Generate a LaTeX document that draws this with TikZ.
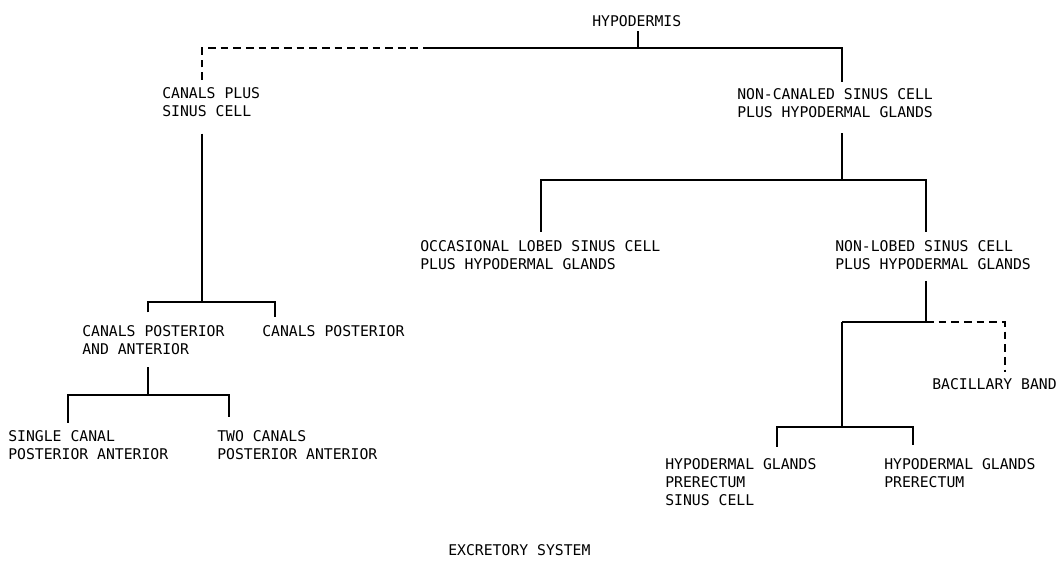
\documentclass[tikz,border=0pt]{standalone}
\usepackage{fontspec}
\setmainfont{DejaVu Sans Mono}
\begin{document}
\begin{tikzpicture}[x=0.025cm, y=-0.025cm,
  lbl/.style={anchor=north west, inner sep=0pt, align=left, font=\fontsize{10.5}{12.8}\selectfont},
  link/.style={line width=1.1pt},
  maybe/.style={line width=1.1pt, dash pattern=on 5.5pt off 3.5pt}]
  \useasboundingbox (0,0) rectangle (1057,560);
  % labels
  \node[lbl] (hyp) at (592,15) {HYPODERMIS};
  \node[lbl] (cps) at (162,87) {CANALS PLUS\\SINUS CELL};
  \node[lbl] (ncs) at (737,88) {NON-CANALED SINUS CELL\\PLUS HYPODERMAL GLANDS};
  \node[lbl] (ols) at (420,240) {OCCASIONAL LOBED SINUS CELL\\PLUS HYPODERMAL GLANDS};
  \node[lbl] (nls) at (835,240) {NON-LOBED SINUS CELL\\PLUS HYPODERMAL GLANDS};
  \node[lbl] (cpa) at (82,325) {CANALS POSTERIOR\\AND ANTERIOR};
  \node[lbl] (cpo) at (262,325) {CANALS POSTERIOR};
  \node[lbl] (sca) at (8,430) {SINGLE CANAL\\POSTERIOR ANTERIOR};
  \node[lbl] (tca) at (217,430) {TWO CANALS\\POSTERIOR ANTERIOR};
  \node[lbl] (bac) at (932,378) {BACILLARY BAND};
  \node[lbl] (hgs) at (665,458) {HYPODERMAL GLANDS\\PRERECTUM\\SINUS CELL};
  \node[lbl] (hgp) at (884,458) {HYPODERMAL GLANDS\\PRERECTUM};
  \node[lbl] (title) at (448,544) {EXCRETORY SYSTEM};
  % junctions
  \coordinate (tl) at (202,48);
  \coordinate (td) at (430,48);
  \coordinate (tm) at (638,48);
  \coordinate (tr) at (842,48);
  \coordinate (ja) at (148,302);
  \coordinate (jb) at (275,302);
  \coordinate (j1) at (202,302);
  \coordinate (jc) at (148,395);
  \coordinate (jd) at (68,395);
  \coordinate (je) at (229,395);
  \coordinate (jf) at (842,180);
  \coordinate (jg) at (541,180);
  \coordinate (jh) at (926,180);
  \coordinate (ji) at (926,322);
  \coordinate (jk) at (842,322);
  \coordinate (jl) at (1005,322);
  \coordinate (jm) at (842,427);
  \coordinate (jn) at (777,427);
  \coordinate (jo) at (913,427);
  % top level
  \draw[link, shorten >=3pt] (tm) -- (tm |- hyp.south);
  \draw[maybe, shorten <=5pt] (tl |- cps.north) -- (tl) -- (td);
  \draw[link, shorten >=4pt] (td) -- (tr) -- (tr |- ncs.north);
  % canals side
  \draw[link, shorten <=12pt] (cps.south -| j1) -- (j1);
  \draw[link, shorten <=9pt, shorten >=5.7pt] (ja |- cpa.north) -- (ja) -- (jb) -- (jb |- cpo.north);
  \draw[link, shorten <=9pt] (cpa.south -| jc) -- (jc);
  \draw[link, shorten <=5pt, shorten >=9pt] (jd |- sca.north) -- (jd) -- (je) -- (je |- tca.north);
  % non-canaled side
  \draw[link, shorten <=11pt] (ncs.south -| jf) -- (jf);
  \draw[link, shorten <=5.7pt, shorten >=5.7pt] (jg |- ols.north) -- (jg) -- (jh) -- (jh |- nls.north);
  \draw[link, shorten <=8pt] (nls.south -| ji) -- (ji);
  \draw[link] (jk) -- (ji);
  \draw[maybe, shorten >=4pt] (ji) -- (jl) -- (jl |- bac.north);
  \draw[link] (jk) -- (jm);
  \draw[link, shorten <=8pt, shorten >=9pt] (jn |- hgs.north) -- (jn) -- (jo) -- (jo |- hgp.north);
\end{tikzpicture}
\end{document}
